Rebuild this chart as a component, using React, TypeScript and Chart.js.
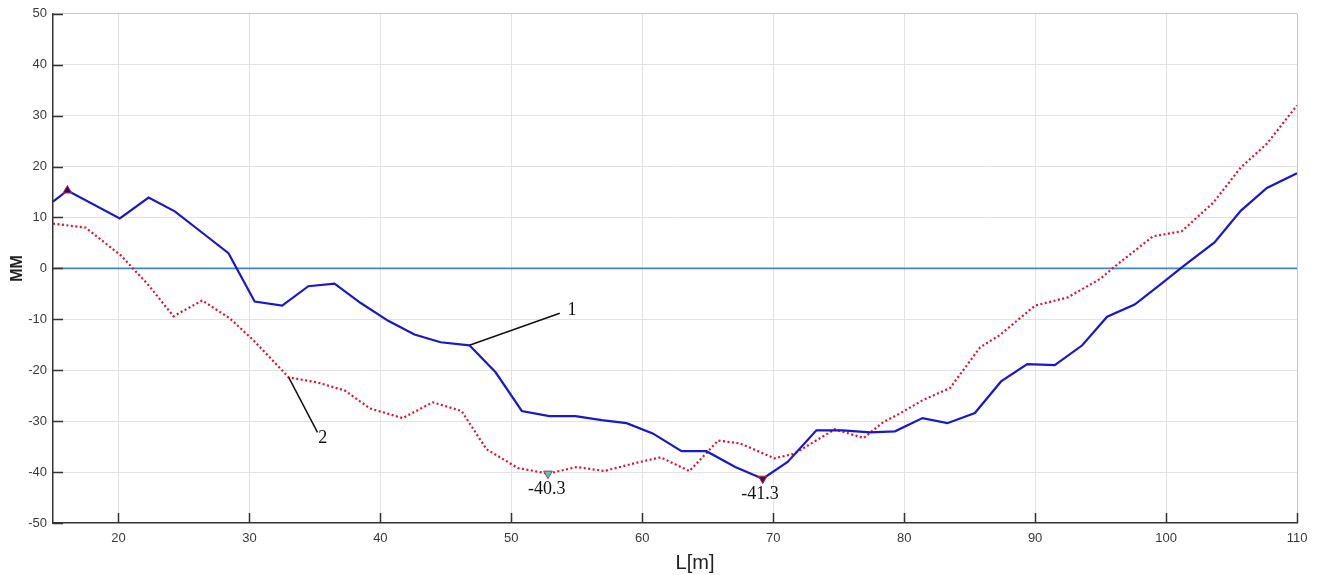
import React, { useEffect, useRef } from "react";
import { Chart, registerables } from "chart.js";

Chart.register(...registerables);

// Series 1 (blue, solid)
const line1X = [15, 16.1, 20.1, 22.3, 24.3, 26.4, 28.4, 30.4, 32.5, 34.5, 36.5, 38.5, 40.6, 42.6, 44.6, 46.8, 48.8, 50.8, 52.9, 54.9, 56.9, 58.8, 60.8, 63.0, 64.9, 67.1, 69.2, 71.1, 73.3, 75.3, 77.4, 79.3, 81.4, 83.3, 85.4, 87.4, 89.4, 91.5, 93.6, 95.5, 97.6, 99.7, 101.3, 103.7, 105.7, 107.7, 110];
const line1Y = [13.1, 15.3, 9.8, 13.9, 11.2, 7.0, 3.0, -6.5, -7.3, -3.5, -3.0, -6.8, -10.3, -13.0, -14.5, -15.1, -20.4, -28.0, -29.0, -29.0, -29.8, -30.4, -32.4, -35.9, -35.9, -39.0, -41.3, -38.0, -31.8, -31.8, -32.2, -32.0, -29.4, -30.4, -28.4, -22.2, -18.8, -19.0, -15.1, -9.5, -7.1, -2.9, 0.4, 5.1, 11.3, 15.8, 18.7];

// Series 2 (red, dotted)
const line2X = [15, 17.5, 20.2, 22.3, 24.2, 26.4, 28.5, 30.3, 33.0, 35.2, 37.3, 39.2, 41.7, 44.0, 46.2, 48.1, 50.5, 52.8, 55.0, 57.1, 59.5, 61.4, 63.6, 65.8, 67.5, 70.1, 71.6, 74.7, 76.9, 78.4, 79.6, 81.4, 83.5, 85.8, 87.3, 90.0, 92.5, 95.0, 96.0, 99.0, 101.2, 103.6, 105.7, 107.7, 110];
const line2Y = [8.8, 8.0, 2.5, -3.3, -9.4, -6.3, -9.8, -14.1, -21.4, -22.4, -24.0, -27.5, -29.4, -26.3, -28.0, -35.5, -39.2, -40.3, -39.0, -39.8, -38.2, -37.1, -39.8, -33.8, -34.4, -37.3, -36.4, -31.6, -33.3, -30.2, -28.6, -25.9, -23.5, -15.5, -13.1, -7.3, -5.7, -2.0, 0.2, 6.3, 7.3, 12.9, 19.8, 24.5, 32.0];

// Reference zero line
const zeroX = [15, 110];
const zeroY = [0, 0];

// Markers
const markerTop = { x: 16.1, y: 15.3 };
const markerMin2 = { x: 52.8, y: -40.3 };
const markerMin1 = { x: 69.2, y: -41.3 };

// Leader lines and labels
const leader1X = [46.8, 53.7];
const leader1Y = [-15.1, -8.8];
const leader2X = [33.0, 35.2];
const leader2Y = [-21.4, -32.2];
const textLabels = [
  { text: "1", x: 54.3, y: -8.2, align: "left" },
  { text: "2", x: 35.6, y: -33.3, align: "center" },
  { text: "-40.3", x: 52.7, y: -43.3, align: "center" },
  { text: "-41.3", x: 69.0, y: -44.3, align: "center" },
];

const xTicks = [20, 30, 40, 50, 60, 70, 80, 90, 100, 110];
const yMin = -50;
const yMax = 50;
const xMin = 15;
const xMax = 110;

const zip = (xs: number[], ys: number[]) => xs.map((x, i) => ({ x, y: ys[i] }));

export default function App() {
  const ref = useRef<HTMLCanvasElement | null>(null);

  useEffect(() => {
    if (!ref.current) return;

    const overlay = {
      id: "overlay",
      afterDraw(chart: any) {
        const { ctx, chartArea, scales } = chart;
        const xs = scales.x;
        const ys = scales.y;
        ctx.save();
        // inner ticks
        ctx.strokeStyle = "#333";
        ctx.lineWidth = 1.5;
        ctx.beginPath();
        xTicks.forEach((v) => {
          const px = Math.round(xs.getPixelForValue(v)) + 0.5;
          ctx.moveTo(px, chartArea.bottom);
          ctx.lineTo(px, chartArea.bottom - 10);
        });
        ys.ticks.forEach((t: any) => {
          const py = Math.round(ys.getPixelForValue(t.value)) + 0.5;
          ctx.moveTo(chartArea.left, py);
          ctx.lineTo(chartArea.left + 10, py);
        });
        ctx.stroke();
        // text labels
        ctx.fillStyle = "#111";
        ctx.font = '18px "Liberation Serif", "Times New Roman", serif';
        ctx.textBaseline = "middle";
        textLabels.forEach((l) => {
          ctx.textAlign = l.align as CanvasTextAlign;
          ctx.fillText(l.text, xs.getPixelForValue(l.x), ys.getPixelForValue(l.y));
        });
        // x axis title
        ctx.fillStyle = "#222";
        ctx.font = '20px "Liberation Sans", Arial, sans-serif';
        ctx.textAlign = "center";
        ctx.fillText("L[m]", (chartArea.left + chartArea.right) / 2 + 20, 563);
        ctx.restore();
      },
    };

    const chart = new Chart(ref.current, {
      type: "scatter",
      data: {
        datasets: [
          {
            label: "top",
            data: [markerTop],
            showLine: false,
            pointStyle: "triangle",
            pointRadius: 5,
            backgroundColor: "#10108a",
            borderColor: "#e02020",
            borderWidth: 1,
            order: 0,
          } as any,
          {
            label: "min2",
            data: [markerMin2],
            showLine: false,
            pointStyle: "triangle",
            rotation: 180,
            pointRadius: 5,
            backgroundColor: "#30d8c0",
            borderColor: "#e02040",
            borderWidth: 1,
            order: 0,
          },
          {
            label: "min1",
            data: [markerMin1],
            showLine: false,
            pointStyle: "triangle",
            rotation: 180,
            pointRadius: 5,
            backgroundColor: "#1a1a80",
            borderColor: "#e02020",
            borderWidth: 1,
            order: 0,
          },
          {
            label: "1",
            data: zip(line1X, line1Y),
            showLine: true,
            borderColor: "#1818cc",
            borderWidth: 2.2,
            pointRadius: 0,
            tension: 0,
            order: 1,
          },
          {
            label: "2",
            data: zip(line2X, line2Y),
            showLine: true,
            borderColor: "#e01030",
            borderWidth: 2.2,
            borderDash: [2, 2.5],
            pointRadius: 0,
            tension: 0,
            order: 2,
          },
          {
            label: "leader1",
            data: zip(leader1X, leader1Y),
            showLine: true,
            borderColor: "#111",
            borderWidth: 1.5,
            pointRadius: 0,
            order: 1,
          },
          {
            label: "leader2",
            data: zip(leader2X, leader2Y),
            showLine: true,
            borderColor: "#111",
            borderWidth: 1.5,
            pointRadius: 0,
            order: 1,
          },
          {
            label: "zero",
            data: zip(zeroX, zeroY),
            showLine: true,
            borderColor: "#3f88c5",
            borderWidth: 1.6,
            pointRadius: 0,
            order: 3,
          },
        ],
      },
      options: {
        animation: false,
        responsive: true,
        maintainAspectRatio: false,
        layout: { padding: { left: 0, right: 21, top: 13, bottom: 0 } },
        plugins: {
          legend: { display: false },
          tooltip: { enabled: false },
        },
        elements: { line: { borderCapStyle: "butt" } },
        scales: {
          x: {
            type: "linear",
            min: xMin,
            max: xMax,
            afterBuildTicks: (scale: any) => {
              scale.ticks = xTicks.map((v) => ({ value: v }));
            },
            afterFit: (scale: any) => {
              scale.height = 52;
            },
            grid: {
              drawTicks: false,
              color: (c: any) => (c.tick && c.tick.value === xMax ? "#c8c8c8" : "#e3e3e3"),
              lineWidth: 1,
            },
            border: { color: "#333", width: 1.5 },
            ticks: {
              padding: 8,
              color: "#3a3a3a",
              font: { family: '"Liberation Sans", Arial, sans-serif', size: 13 },
            },
          },
          y: {
            type: "linear",
            min: yMin,
            max: yMax,
            afterFit: (scale: any) => {
              scale.width = 53;
            },
            grid: {
              drawTicks: false,
              color: (c: any) =>
                c.tick && c.tick.value === yMin
                  ? "rgba(0,0,0,0)"
                  : c.tick && c.tick.value === yMax
                  ? "#c8c8c8"
                  : "#e3e3e3",
              lineWidth: 1,
            },
            border: { color: "#333", width: 1.5 },
            ticks: {
              stepSize: 10,
              padding: 6,
              color: "#3a3a3a",
              font: { family: '"Liberation Sans", Arial, sans-serif', size: 13 },
            },
            title: {
              display: true,
              text: "MM",
              color: "#222",
              padding: { top: 8, bottom: 0 },
              font: { family: '"Liberation Sans", Arial, sans-serif', size: 16, weight: "bold" },
            },
          },
        },
      },
      plugins: [overlay],
    });

    return () => chart.destroy();
  }, []);

  return (
    <div style={{ position: "absolute", left: 0, top: 0, width: 1318, height: 575, background: "#fff" }}>
      <canvas ref={ref} />
    </div>
  );
}
